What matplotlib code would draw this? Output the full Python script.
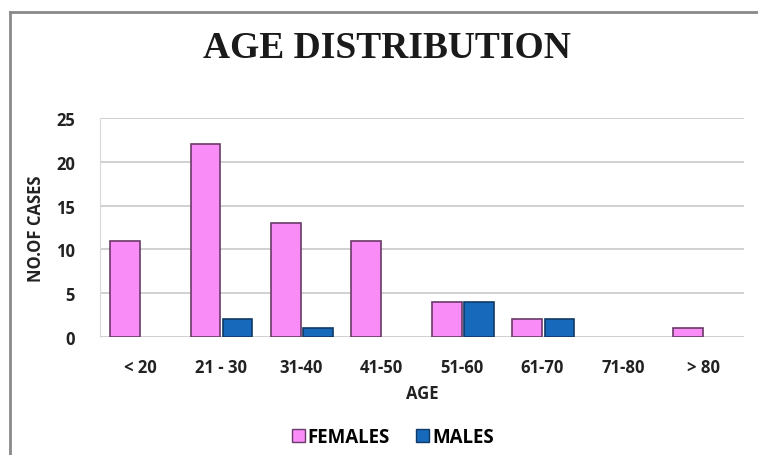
import matplotlib.pyplot as plt
import numpy as np
from matplotlib.lines import Line2D

age_groups = ['< 20', '21 - 30', '31-40', '41-50', '51-60', '61-70', '71-80', '> 80']
females = [11, 22, 13, 11, 4, 2, 0, 1]
males = [0, 2, 1, 0, 4, 2, 0, 0]

pink = '#F98CF6'
blue = '#1769BC'

fig = plt.figure(figsize=(7.58, 4.56), dpi=100)
ax = fig.add_axes([0.132, 0.259, 0.849, 0.48])

x = np.arange(len(age_groups))
w = 0.37
# no outline on empty bars
ax.bar(x - 0.19, females, w, color=pink, edgecolor='#6A3A68',
       linewidth=[1.2 if v > 0 else 0 for v in females], label='FEMALES', zorder=3)
ax.bar(x + 0.21, males, w, color=blue, edgecolor='#0F3A66',
       linewidth=[1.2 if v > 0 else 0 for v in males], label='MALES', zorder=3)

ax.set_xlim(-0.5, len(age_groups) - 0.5)
ax.set_ylim(0, 25)
ax.set_yticks(range(0, 26, 5))
ax.set_xticks(x)
ax.set_xticklabels(age_groups)
ax.yaxis.grid(True, color='#C8C8C8', linewidth=1.2, zorder=0)
for s in ['top', 'right', 'bottom']:
    ax.spines[s].set_visible(False)
ax.spines['left'].set_color('#D8D8D8')
ax.tick_params(axis='x', length=0, labelsize=12, pad=15)
ax.tick_params(axis='y', length=0, labelsize=12, pad=18)
for lab in ax.get_xticklabels() + ax.get_yticklabels():
    lab.set_fontweight('bold')
    lab.set_fontfamily('Open Sans')
    lab.set_color('#222222')

ax.set_xlabel('AGE', fontsize=12, fontweight='bold', family='Open Sans', color='#222222', labelpad=6)
ax.set_ylabel('NO.OF CASES', fontsize=12, fontweight='bold', family='Open Sans', color='#222222', labelpad=8)

fig.text(0.51, 0.893, 'AGE DISTRIBUTION', ha='center', va='center', fontsize=27,
         fontweight='bold', family='Liberation Serif', color='#1A1A1A')

handles = [plt.Rectangle((0, 0), 1, 1, facecolor=pink, edgecolor='#6A3A68'),
           plt.Rectangle((0, 0), 1, 1, facecolor=blue, edgecolor='#0F3A66')]
leg = fig.legend(handles, ['FEMALES', 'MALES'], loc='center', bbox_to_anchor=(0.518, 0.04),
                 ncol=2, frameon=False, handlelength=0.7, handleheight=0.7,
                 handletextpad=0.15, columnspacing=1.4,
                 prop={'family': 'Open Sans', 'weight': 'bold', 'size': 13.5})

# outer chart frame
fig.add_artist(Line2D([0.013, 1.0], [0.971, 0.971], color='#8A8A8A', linewidth=2, transform=fig.transFigure))
fig.add_artist(Line2D([0.013, 0.013], [0.0, 0.971], color='#8A8A8A', linewidth=2, transform=fig.transFigure))

fig.savefig('out.png', dpi=100)
